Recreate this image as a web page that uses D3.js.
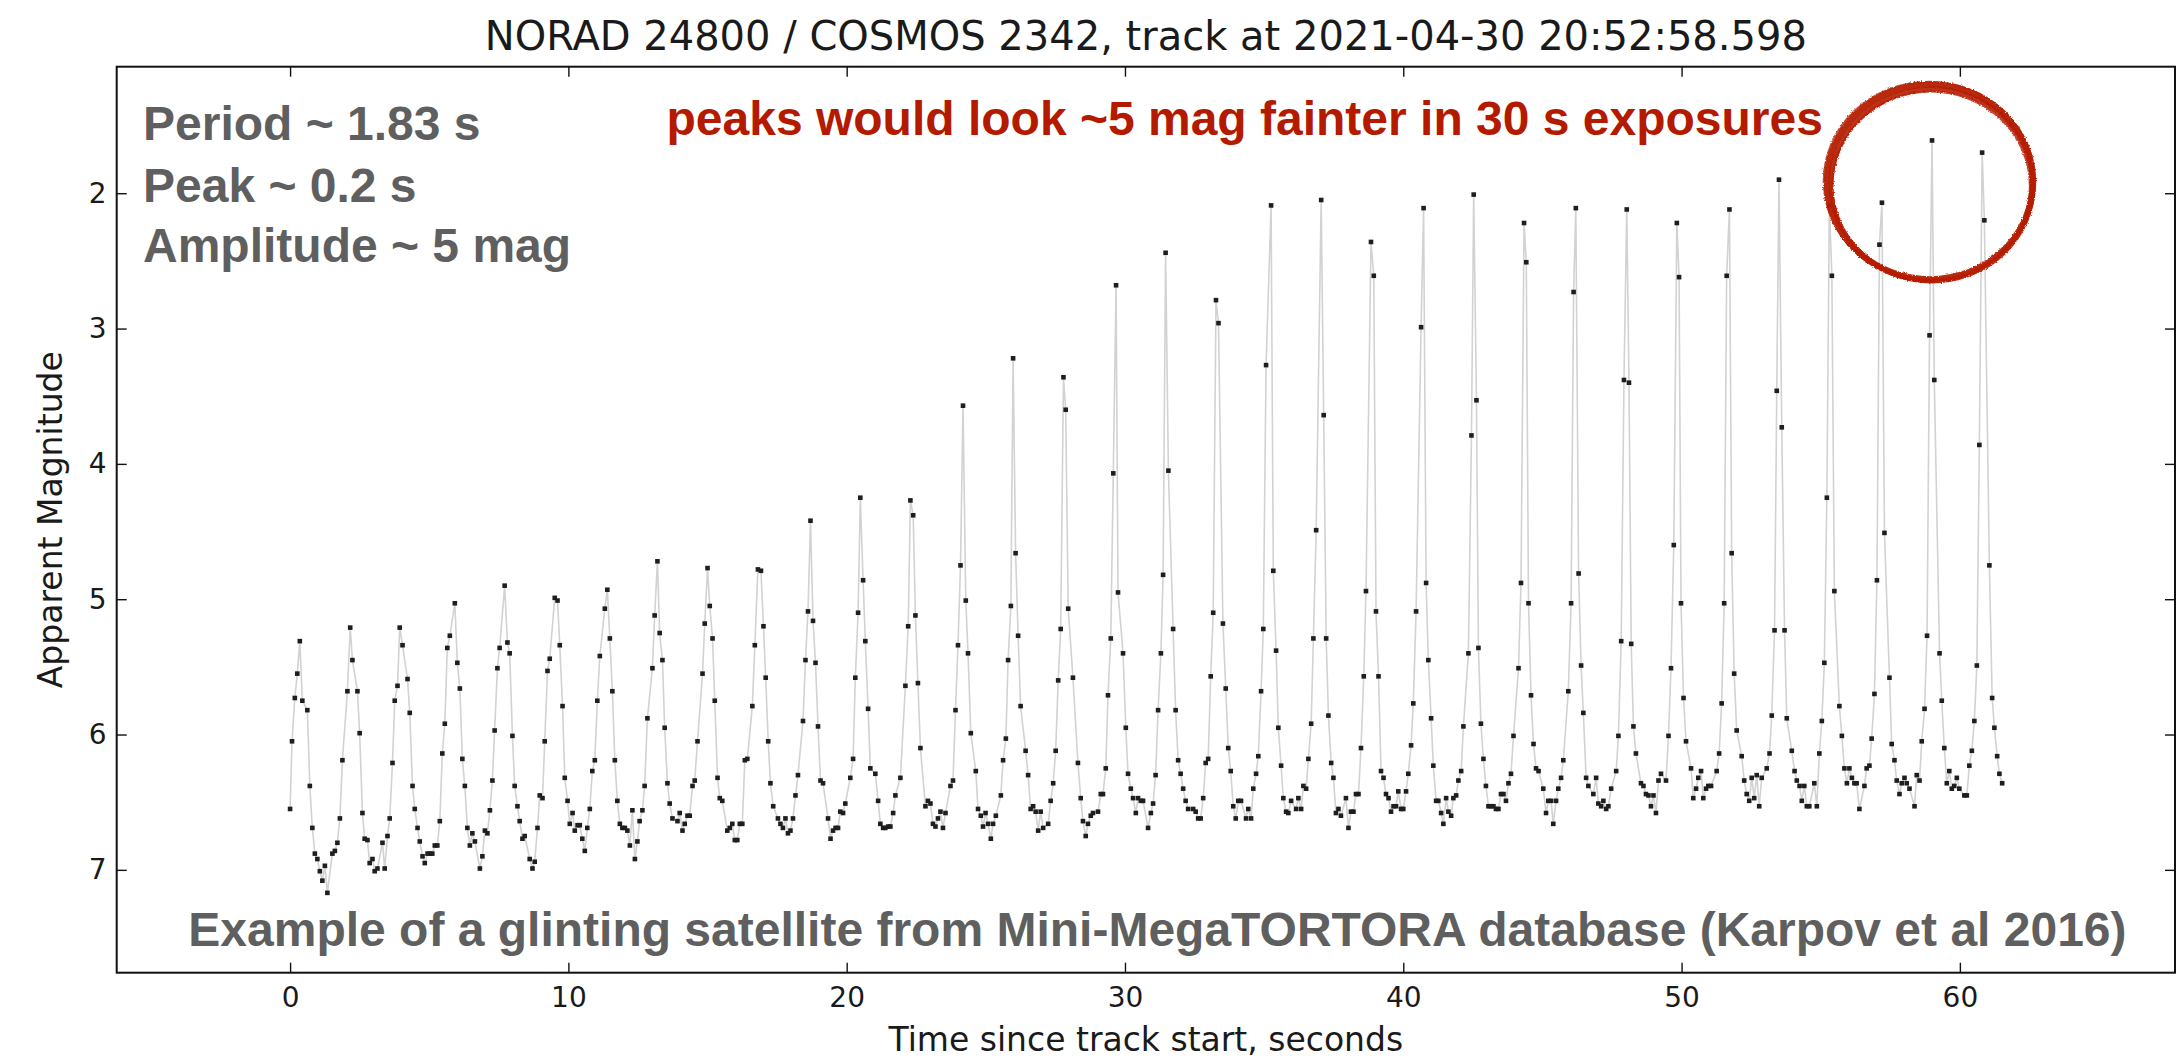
<!DOCTYPE html>
<html>
<head>
<meta charset="utf-8">
<script src="https://cdn.jsdelivr.net/npm/d3@7"></script>
<style>
  html, body { margin: 0; padding: 0; background: #ffffff; }
  svg { display: block; }
</style>
</head>
<body>
<svg id="chart" width="2183" height="1063"></svg>
<script>
// Light curve of NORAD 24800 (COSMOS 2342): time since track start [s] and apparent magnitude
const timeSec = [
  0.00,0.07,0.17,0.26,0.35,0.44,0.62,0.71,0.80,0.89,
  0.98,1.07,1.16,1.25,1.34,1.52,1.61,1.70,1.79,1.88,
  2.06,2.16,2.24,2.42,2.50,2.60,2.68,2.78,2.86,2.96,
  3.04,3.14,3.32,3.40,3.50,3.58,3.68,3.76,3.86,3.94,
  4.04,4.22,4.30,4.40,4.48,4.58,4.66,4.76,4.84,4.94,
  5.02,5.11,5.20,5.29,5.38,5.47,5.56,5.65,5.74,5.92,
  6.01,6.10,6.19,6.28,6.37,6.46,6.55,6.64,6.82,6.91,
  7.00,7.09,7.18,7.27,7.35,7.45,7.53,7.71,7.81,7.89,
  7.99,8.07,8.17,8.25,8.35,8.43,8.61,8.71,8.79,8.89,
  8.97,9.07,9.15,9.25,9.33,9.51,9.61,9.69,9.79,9.87,
  9.97,10.05,10.15,10.23,10.33,10.41,10.50,10.59,10.68,10.77,
  10.86,10.95,11.04,11.13,11.31,11.40,11.49,11.58,11.67,11.76,
  11.85,11.94,12.03,12.12,12.21,12.30,12.39,12.48,12.56,12.66,
  12.74,12.84,13.02,13.10,13.20,13.28,13.38,13.46,13.56,13.64,
  13.74,13.92,14.00,14.10,14.18,14.28,14.36,14.46,14.54,14.64,
  14.82,14.90,15.00,15.08,15.18,15.26,15.36,15.44,15.53,15.71,
  15.80,15.89,15.98,16.07,16.16,16.25,16.34,16.43,16.61,16.70,
  16.81,16.92,
  17.01,17.09,17.18,17.26,17.36,17.53,17.62,17.71,17.80,17.89,
  17.98,18.07,18.16,18.25,18.43,18.52,18.61,18.70,18.79,18.88,
  18.97,19.06,19.15,19.33,19.42,19.51,19.60,19.69,19.77,19.87,
  19.95,20.13,20.23,20.31,20.41,20.49,20.59,20.67,20.77,20.85,
  21.03,21.13,21.21,21.31,21.39,21.49,21.57,21.67,21.75,21.93,
  22.11,22.21,22.29,22.39,22.47,22.56,22.65,22.83,22.92,23.01,
  23.10,23.19,23.28,23.37,23.46,23.55,23.73,23.82,23.91,24.00,
  24.09,24.18,24.28,24.36,24.46,24.64,24.72,24.82,24.90,24.99,
  25.08,25.18,25.26,25.36,25.54,25.62,25.72,25.80,25.90,25.98,
  26.07,26.16,26.25,26.43,26.52,26.61,26.70,26.79,26.88,26.97,
  27.06,27.24,27.33,27.42,27.51,27.60,27.69,27.79,27.87,27.96,
  28.13,28.31,28.41,28.49,28.59,28.67,28.77,28.85,29.03,29.13,
  29.21,29.31,29.39,29.49,29.58,29.68,29.75,29.93,30.03,30.11,
  30.21,30.29,30.39,30.47,30.57,30.65,30.83,30.93,31.01,31.10,
  31.19,31.29,31.37,31.46,31.56,31.73,31.82,31.91,32.00,32.09,
  32.18,32.27,32.45,32.54,32.63,32.72,32.81,32.90,32.99,33.08,
  33.17,33.27,33.36,33.52,33.62,33.71,33.80,33.89,33.98,34.07,
  34.17,34.35,34.43,34.53,34.61,34.71,34.79,34.89,34.97,35.07,
  35.25,35.33,35.43,35.51,35.61,35.69,35.79,35.87,35.97,36.15,
  36.23,36.33,36.41,36.51,36.59,36.69,36.77,36.87,37.05,37.14,
  37.23,37.31,37.41,37.49,37.58,37.67,37.76,37.94,38.03,38.12,
  38.21,38.30,38.39,38.48,38.58,38.66,38.84,38.94,39.02,39.11,
  39.20,39.29,39.38,39.47,39.56,39.65,39.74,39.82,39.92,40.00,
  40.10,40.18,40.28,40.36,40.46,40.64,40.73,40.82,40.90,41.00,
  41.08,41.18,41.26,41.36,41.44,41.54,41.62,41.72,41.80,41.90,
  41.98,42.08,42.16,42.34,42.45,42.53,42.63,42.70,42.79,42.88,
  42.97,43.06,43.15,43.24,43.33,43.42,43.51,43.60,43.69,43.78,
  43.87,43.96,44.14,44.23,44.34,44.42,44.50,44.59,44.68,44.77,
  44.86,45.03,45.13,45.21,45.31,45.39,45.49,45.57,45.67,45.75,
  45.93,46.03,46.12,46.20,46.30,46.39,46.47,46.57,46.65,46.83,
  46.93,47.01,47.11,47.19,47.29,47.37,47.47,47.65,47.73,47.83,
  47.93,48.03,48.11,48.19,48.27,48.36,48.54,48.63,48.72,48.81,
  48.90,48.99,49.08,49.17,49.26,49.44,49.53,49.62,49.72,49.83,
  49.91,49.98,50.07,50.16,50.34,50.42,50.52,50.60,50.70,50.78,
  50.88,50.96,
  51.06,51.26,51.35,51.44,51.53,51.62,51.72,51.80,51.89,51.98,
  52.16,52.25,52.34,52.43,52.52,52.61,52.70,52.79,52.88,53.06,
  53.16,53.24,53.34,53.42,53.50,53.60,53.70,53.78,53.96,54.06,
  54.14,54.24,54.32,54.41,54.50,54.59,54.77,54.86,54.95,55.04,
  55.13,55.22,55.31,55.40,55.49,55.67,55.76,55.85,55.94,56.03,
  56.12,56.21,56.29,56.39,56.57,56.65,56.75,56.83,56.93,57.02,
  57.11,57.20,57.29,57.47,57.55,57.65,57.73,57.83,57.91,58.01,
  58.09,58.19,58.37,58.45,58.55,58.63,58.73,58.82,58.91,59.00,
  59.08,59.27,59.35,59.44,59.53,59.62,59.71,59.80,59.89,59.98,
  60.16,60.25,60.34,60.43,60.52,60.61,60.70,60.80,60.88,61.06,
  61.16,61.24,61.34,61.42,61.52
];

const apparentMag = [
  6.55,6.05,5.73,5.55,5.31,5.75,5.82,6.38,6.69,6.88,
  6.92,7.01,7.08,6.97,7.17,6.88,6.86,6.80,6.62,6.19,
  5.68,5.21,5.45,5.68,5.99,6.58,6.77,6.78,6.95,6.92,
  7.01,6.99,6.80,6.99,6.75,6.62,6.21,5.75,5.64,5.21,
  5.34,5.59,5.84,6.38,6.55,6.69,6.79,6.90,6.95,6.88,
  6.88,6.88,6.82,6.82,6.64,6.14,5.92,5.36,5.27,5.03,
  5.47,5.66,6.18,6.38,6.69,6.82,6.73,6.79,6.99,6.90,
  6.71,6.73,6.56,6.34,5.97,5.51,5.36,4.90,5.32,5.40,
  6.01,6.38,6.53,6.64,6.77,6.75,6.92,6.99,6.94,6.69,
  6.45,6.47,6.05,5.53,5.44,4.99,5.01,5.34,5.79,6.32,
  6.49,6.66,6.58,6.71,6.67,6.67,6.77,6.86,6.69,6.55,
  6.27,6.19,5.75,5.42,5.07,4.93,5.29,5.68,6.19,6.49,
  6.66,6.69,6.69,6.71,6.82,6.56,6.92,6.79,6.64,6.56,
  6.38,5.88,5.51,5.12,4.72,5.25,5.45,5.95,6.36,6.51,
  6.62,6.64,6.58,6.71,6.66,6.60,6.60,6.38,6.34,6.05,
  5.55,5.18,4.77,5.05,5.29,5.75,6.32,6.47,6.49,6.71,
  6.69,6.66,6.78,6.78,6.66,6.66,6.19,6.18,5.79,5.34,
  4.78,4.79,
  5.20,5.58,6.05,6.36,6.53,6.62,6.66,6.69,6.62,6.73,
  6.71,6.62,6.45,6.30,5.90,5.45,5.09,4.42,5.16,5.47,
  5.94,6.34,6.36,6.62,6.77,6.71,6.69,6.69,6.57,6.58,
  6.51,6.32,6.18,5.58,5.10,4.25,4.86,5.31,5.81,6.25,
  6.29,6.49,6.66,6.69,6.69,6.68,6.68,6.58,6.45,6.32,
  5.64,5.20,4.27,4.38,5.12,5.62,6.10,6.53,6.49,6.51,
  6.66,6.68,6.62,6.57,6.69,6.58,6.38,6.34,5.82,5.34,
  4.75,3.57,5.01,5.40,5.99,6.27,6.55,6.60,6.68,6.58,
  6.66,6.77,6.66,6.60,6.45,6.19,6.03,5.45,5.05,3.22,
  4.66,5.27,5.79,6.12,6.30,6.55,6.53,6.57,6.71,6.57,
  6.69,6.66,6.49,6.36,6.12,5.60,5.22,3.36,3.60,5.07,
  5.58,6.21,6.47,6.64,6.75,6.66,6.60,6.58,6.57,6.44,
  6.44,6.25,5.71,5.29,4.07,2.68,4.95,5.40,5.95,6.29,
  6.40,6.47,6.58,6.47,6.49,6.49,6.69,6.58,6.51,6.30,
  5.82,5.40,4.82,2.44,4.05,5.22,5.82,6.19,6.29,6.40,
  6.49,6.55,6.55,6.57,6.62,6.62,6.47,6.21,6.18,5.57,
  5.10,2.79,2.96,5.18,5.66,6.10,6.27,6.53,6.62,6.49,
  6.49,6.62,6.55,6.62,6.40,6.29,6.16,5.68,5.22,3.27,
  2.09,4.79,5.38,5.95,6.23,6.47,6.57,6.58,6.49,6.55,
  6.47,6.55,6.38,6.40,6.18,5.92,5.29,4.49,2.05,3.64,
  5.29,5.86,6.21,6.32,6.58,6.55,6.60,6.47,6.69,6.57,
  6.57,6.44,6.44,6.10,5.57,4.94,2.36,2.61,5.09,5.57,
  6.27,6.32,6.44,6.47,6.57,6.53,6.53,6.42,6.55,6.55,
  6.42,6.29,6.08,5.77,5.09,2.99,2.11,4.88,5.45,5.88,
  6.23,6.49,6.49,6.58,6.66,6.47,6.57,6.60,6.47,6.45,
  6.34,6.27,5.94,5.40,3.79,2.01,3.53,5.36,5.92,6.18,
  6.38,6.53,6.53,6.53,6.55,6.55,6.44,6.44,6.49,6.36,
  6.29,6.01,5.51,4.88,2.22,2.51,5.03,5.71,6.07,6.25,
  6.27,6.40,6.58,6.49,6.49,6.66,6.49,6.40,6.32,6.19,
  5.68,5.03,2.73,2.11,4.81,5.49,5.84,6.32,6.38,6.44,
  6.32,6.51,6.53,6.49,6.55,6.53,6.40,6.27,6.01,5.31,
  3.38,2.12,3.40,5.33,5.94,6.14,6.36,6.38,6.44,6.45,
  6.53,6.45,6.58,6.34,6.29,6.34,6.01,5.51,4.60,2.22,
  2.62,5.03,5.73,6.05,6.25,6.47,6.40,6.32,6.27,6.47,
  6.40,6.38,
  6.38,6.27,6.14,5.77,5.03,2.61,2.12,4.66,5.55,5.97,
  6.16,6.34,6.44,6.49,6.32,6.47,6.30,6.53,6.32,6.25,
  6.14,5.86,5.23,3.46,1.90,3.73,5.23,5.88,6.12,6.27,
  6.34,6.38,6.49,6.38,6.53,6.53,6.36,6.53,6.14,5.90,
  5.47,4.25,2.09,2.61,4.94,5.79,6.01,6.25,6.36,6.25,
  6.32,6.36,6.36,6.55,6.38,6.25,6.23,6.03,5.70,4.86,
  2.38,2.07,4.51,5.58,6.07,6.19,6.34,6.44,6.36,6.32,
  6.36,6.40,6.53,6.30,6.34,6.05,5.81,5.27,3.05,1.61,
  3.38,5.40,5.75,6.10,6.36,6.27,6.40,6.38,6.32,6.40,
  6.45,6.45,6.23,6.12,5.90,5.49,3.86,1.70,2.20,4.75,
  5.73,5.95,6.16,6.29,6.36
];

const xTickValues = [0, 10, 20, 30, 40, 50, 60];
const yTickValues = [2, 3, 4, 5, 6, 7];

const titleText = "NORAD 24800 / COSMOS 2342, track at 2021-04-30 20:52:58.598";
const xLabelText = "Time since track start, seconds";
const yLabelText = "Apparent Magnitude";
const statLines = ["Period ~ 1.83 s", "Peak ~ 0.2 s", "Amplitude ~ 5 mag"];
const exposureNote = "peaks would look ~5 mag fainter in 30 s exposures";
const sourceNote = "Example of a glinting satellite from Mini-MegaTORTORA database (Karpov et al 2016)";

// ---- layout ----
const frame = { left: 116.7, right: 2175, top: 66.7, bottom: 972.7 };
const tickFont = "DejaVu Sans, sans-serif";
const noteFont = "'Liberation Sans', Arial, Helvetica, sans-serif";
const noteGray = "#5f5f5f";
const noteRed = "#b41a00";

const svg = d3.select("#chart");

const x = d3.scaleLinear().domain([-6.23, 67.73]).range([frame.left, frame.right]);
// magnitudes: brighter (smaller) values towards the top
const y = d3.scaleLinear().domain([1.065, 7.76]).range([frame.top, frame.bottom]);

const points = timeSec.map((t, i) => ({ t, m: apparentMag[i] }));

// ---- axes: inward ticks on all four sides ----
function styleAxis(g) {
  g.select(".domain").remove();
  g.selectAll(".tick line").attr("stroke", "#111").attr("stroke-width", 1.4);
  g.selectAll(".tick text")
    .attr("fill", "#1a1a1a")
    .style("font-family", tickFont)
    .style("font-size", "28px");
}

svg.append("g")
  .attr("transform", `translate(0,${frame.bottom})`)
  .call(d3.axisBottom(x).tickValues(xTickValues).tickSizeInner(-10).tickSizeOuter(0).tickPadding(14).tickFormat(d3.format("d")))
  .call(styleAxis);

svg.append("g")
  .attr("transform", `translate(0,${frame.top})`)
  .call(d3.axisTop(x).tickValues(xTickValues).tickSizeInner(-10).tickSizeOuter(0).tickFormat(""))
  .call(styleAxis);

svg.append("g")
  .attr("transform", `translate(${frame.left},0)`)
  .call(d3.axisLeft(y).tickValues(yTickValues).tickSizeInner(-10).tickSizeOuter(0).tickPadding(10).tickFormat(d3.format("d")))
  .call(styleAxis);

svg.append("g")
  .attr("transform", `translate(${frame.right},0)`)
  .call(d3.axisRight(y).tickValues(yTickValues).tickSizeInner(-10).tickSizeOuter(0).tickFormat(""))
  .call(styleAxis);

// ---- light curve ----
const plotArea = svg.append("g");

plotArea.append("path")
  .datum(points)
  .attr("fill", "none")
  .attr("stroke", "#d2d2d2")
  .attr("stroke-width", 1.6)
  .attr("stroke-linejoin", "round")
  .attr("d", d3.line().x(d => x(d.t)).y(d => y(d.m)));

const dotSize = 4.6;
plotArea.selectAll("rect.sample")
  .data(points)
  .join("rect")
  .attr("class", "sample")
  .attr("x", d => x(d.t) - dotSize / 2)
  .attr("y", d => y(d.m) - dotSize / 2)
  .attr("width", dotSize)
  .attr("height", dotSize)
  .attr("fill", "#1e1e1e");

// ---- frame ----
svg.append("rect")
  .attr("x", frame.left)
  .attr("y", frame.top)
  .attr("width", frame.right - frame.left)
  .attr("height", frame.bottom - frame.top)
  .attr("fill", "none")
  .attr("stroke", "#111")
  .attr("stroke-width", 2);

// ---- titles ----
const midX = (frame.left + frame.right) / 2;

svg.append("text")
  .attr("x", midX).attr("y", 50)
  .attr("text-anchor", "middle")
  .attr("fill", "#1a1a1a")
  .style("font-family", tickFont)
  .style("font-size", "40px")
  .text(titleText);

svg.append("text")
  .attr("x", midX).attr("y", 1051)
  .attr("text-anchor", "middle")
  .attr("fill", "#1a1a1a")
  .style("font-family", tickFont)
  .style("font-size", "33px")
  .text(xLabelText);

svg.append("text")
  .attr("transform", `translate(62,${(frame.top + frame.bottom) / 2}) rotate(-90)`)
  .attr("text-anchor", "middle")
  .attr("fill", "#1a1a1a")
  .style("font-family", tickFont)
  .style("font-size", "33px")
  .text(yLabelText);

// ---- annotations ----
const statBaselines = [140, 201.7, 261.7];
svg.append("g")
  .selectAll("text")
  .data(statLines)
  .join("text")
  .attr("x", 143)
  .attr("y", (d, i) => statBaselines[i])
  .attr("fill", noteGray)
  .style("font-family", noteFont)
  .style("font-weight", "bold")
  .style("font-size", "48px")
  .text(d => d);

svg.append("text")
  .attr("x", 666.5).attr("y", 135)
  .attr("fill", noteRed)
  .style("font-family", noteFont)
  .style("font-weight", "bold")
  .style("font-size", "48px")
  .text(exposureNote);

svg.append("text")
  .attr("x", 188.3).attr("y", 945.7)
  .attr("fill", noteGray)
  .style("font-family", noteFont)
  .style("font-weight", "bold")
  .style("font-size", "48px")
  .text(sourceNote);

// ---- hand-drawn ring around the brightest glints ----
const defs = svg.append("defs");
const brush = defs.append("filter").attr("id", "brush")
  .attr("x", "-10%").attr("y", "-10%").attr("width", "120%").attr("height", "120%");
brush.append("feTurbulence").attr("type", "fractalNoise").attr("baseFrequency", 0.8)
  .attr("numOctaves", 2).attr("seed", 3).attr("result", "noise");
brush.append("feDisplacementMap").attr("in", "SourceGraphic").attr("in2", "noise")
  .attr("scale", 3).attr("xChannelSelector", "R").attr("yChannelSelector", "G");

const ringCenter = { cx: 1930, cy: 182 };
const ringStrokes = [
  { dx: 0,  dy: 0,  rx: 103,   ry: 97.5, w: 6.5, o: 0.95 },
  { dx: 2,  dy: 3,  rx: 101,   ry: 96,   w: 5,   o: 0.9 },
  { dx: -1, dy: -1, rx: 105.5, ry: 99.5, w: 1.6, o: 0.75 },
  { dx: 1,  dy: 4,  rx: 99,    ry: 94.5, w: 2.2, o: 0.8 }
];
svg.append("g")
  .attr("filter", "url(#brush)")
  .selectAll("ellipse")
  .data(ringStrokes)
  .join("ellipse")
  .attr("cx", d => ringCenter.cx + d.dx)
  .attr("cy", d => ringCenter.cy + d.dy)
  .attr("rx", d => d.rx)
  .attr("ry", d => d.ry)
  .attr("fill", "none")
  .attr("stroke", "#b51c00")
  .attr("stroke-width", d => d.w)
  .attr("stroke-opacity", d => d.o);
</script>
</body>
</html>
